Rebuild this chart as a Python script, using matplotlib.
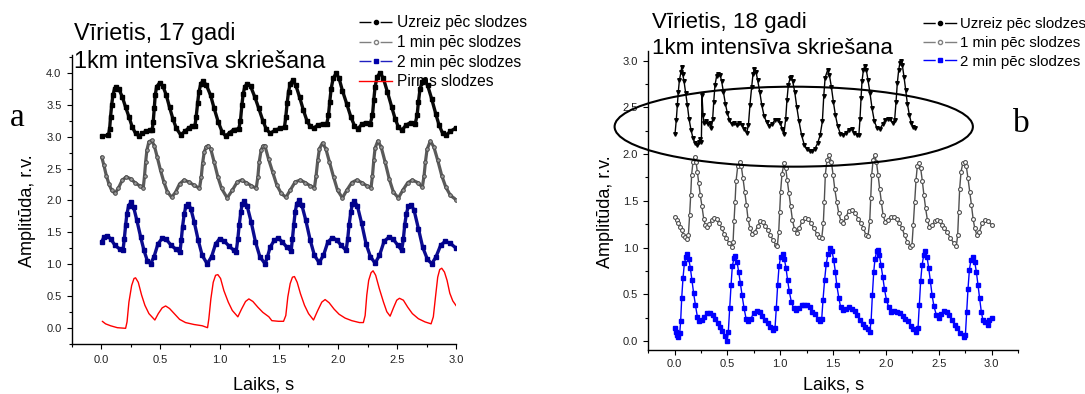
import matplotlib
matplotlib.use("Agg")
import matplotlib.pyplot as plt
from matplotlib.patches import Ellipse
from matplotlib.ticker import MultipleLocator, FormatStrFormatter
from matplotlib.lines import Line2D

plt.rcParams["font.family"] = ["Liberation Sans", "DejaVu Sans"]

# ---------------- data: (time s, amplitude r.v.) ----------------
# Panel a: male, 17 years
a_now = [(0.005,3.01),(0.061,3.02),(0.072,3.12),(0.08,3.31),(0.089,3.49),(0.10,3.65),(0.114,3.75),(0.128,3.78),(0.151,3.74),(0.179,3.62),(0.207,3.46),(0.235,3.31),(0.263,3.15),(0.291,3.05),(0.32,3.01),(0.348,3.05),(0.376,3.08),(0.41,3.10),(0.432,3.11),
         (0.44,3.23),(0.449,3.44),(0.457,3.65),(0.469,3.78),(0.494,3.84),(0.522,3.79),(0.55,3.65),(0.578,3.46),(0.606,3.28),(0.635,3.13),(0.671,3.03),(0.708,3.08),(0.742,3.14),(0.77,3.16),(0.792,3.16),
         (0.803,3.31),(0.815,3.52),(0.826,3.70),(0.843,3.83),(0.862,3.87),(0.89,3.80),(0.924,3.65),(0.955,3.44),(0.989,3.23),(1.023,3.07),(1.051,3.01),(1.085,3.06),(1.121,3.11),(1.163,3.12),
         (1.177,3.25),(1.189,3.49),(1.20,3.67),(1.214,3.78),(1.234,3.83),(1.262,3.79),(1.298,3.62),(1.332,3.44),(1.366,3.25),(1.394,3.12),(1.428,3.05),(1.47,3.10),(1.512,3.13),(1.549,3.15),
         (1.56,3.31),(1.571,3.52),(1.583,3.70),(1.597,3.83),(1.619,3.88),(1.645,3.80),(1.676,3.62),(1.709,3.41),(1.738,3.25),(1.766,3.16),(1.794,3.13),(1.83,3.18),(1.87,3.20),(1.906,3.20),
         (1.92,3.33),(1.931,3.54),(1.943,3.75),(1.96,3.91),(1.985,3.99),(2.01,3.91),(2.038,3.72),(2.075,3.51),(2.109,3.31),(2.14,3.17),(2.168,3.12),(2.201,3.19),(2.235,3.22),(2.272,3.20),
         (2.292,3.33),(2.303,3.57),(2.314,3.78),(2.331,3.93),(2.356,4.00),(2.384,3.91),(2.418,3.70),(2.455,3.46),(2.483,3.28),(2.511,3.15),(2.54,3.10),(2.576,3.18),(2.615,3.22),(2.652,3.20),
         (2.669,3.33),(2.68,3.54),(2.694,3.75),(2.714,3.86),(2.731,3.88),(2.758,3.80),(2.792,3.59),(2.826,3.36),(2.854,3.18),(2.885,3.05),(2.91,3.02),(2.95,3.08),(3.0,3.14)]

a_1min = [(0.005,2.68),(0.024,2.55),(0.044,2.39),(0.066,2.26),(0.089,2.16),(0.117,2.11),(0.145,2.19),(0.179,2.32),(0.213,2.37),(0.249,2.34),(0.286,2.28),(0.325,2.23),(0.356,2.20),
          (0.367,2.39),(0.376,2.60),(0.387,2.79),(0.404,2.92),(0.426,2.94),(0.449,2.86),(0.474,2.68),(0.502,2.47),(0.53,2.29),(0.559,2.14),(0.595,2.05),(0.629,2.13),(0.663,2.26),(0.70,2.32),(0.741,2.29),(0.784,2.24),(0.831,2.19),
          (0.846,2.37),(0.857,2.58),(0.871,2.76),(0.888,2.84),(0.904,2.86),(0.927,2.80),(0.955,2.60),(0.986,2.37),(1.017,2.19),(1.065,2.04),(1.108,2.16),(1.15,2.29),(1.186,2.32),(1.226,2.28),(1.27,2.23),(1.31,2.19),
          (1.324,2.37),(1.335,2.60),(1.352,2.79),(1.366,2.85),(1.383,2.86),(1.414,2.65),(1.448,2.45),(1.484,2.24),(1.522,2.11),(1.561,2.05),(1.597,2.16),(1.639,2.29),(1.682,2.32),(1.724,2.28),(1.766,2.23),(1.802,2.20),
          (1.816,2.39),(1.83,2.63),(1.844,2.81),(1.87,2.90),(1.898,2.81),(1.929,2.60),(1.963,2.37),(1.997,2.16),(2.038,2.04),(2.075,2.16),(2.117,2.28),(2.159,2.32),(2.201,2.28),(2.244,2.23),(2.28,2.20),
          (2.292,2.39),(2.303,2.63),(2.314,2.82),(2.337,2.93),(2.365,2.84),(2.399,2.60),(2.433,2.34),(2.469,2.13),(2.511,2.04),(2.548,2.16),(2.59,2.28),(2.629,2.32),(2.674,2.28),(2.713,2.21),
          (2.728,2.39),(2.739,2.60),(2.753,2.80),(2.781,2.93),(2.81,2.84),(2.843,2.63),(2.877,2.39),(2.911,2.21),(2.95,2.08),(3.0,2.01)]

a_2min = [(0.005,1.35),(0.024,1.43),(0.052,1.45),(0.08,1.40),(0.117,1.30),(0.157,1.24),(0.185,1.22),
          (0.196,1.40),(0.207,1.61),(0.218,1.79),(0.233,1.92),(0.252,1.97),(0.274,1.90),(0.302,1.69),(0.334,1.43),(0.362,1.22),(0.39,1.06),(0.418,1.01),(0.447,1.12),(0.48,1.32),(0.516,1.41),(0.55,1.39),(0.587,1.31),(0.629,1.24),(0.666,1.19),
          (0.677,1.38),(0.688,1.59),(0.702,1.79),(0.716,1.91),(0.736,1.95),(0.758,1.87),(0.787,1.66),(0.82,1.38),(0.854,1.14),(0.896,1.01),(0.933,1.12),(0.967,1.32),(1.0,1.40),(1.037,1.37),(1.079,1.29),(1.121,1.22),(1.141,1.20),
          (1.155,1.40),(1.166,1.61),(1.18,1.82),(1.191,1.94),(1.208,1.99),(1.234,1.91),(1.268,1.66),(1.304,1.35),(1.341,1.12),(1.385,1.01),(1.405,1.12),(1.428,1.27),(1.464,1.38),(1.498,1.41),(1.532,1.35),(1.568,1.27),(1.605,1.21),
          (1.616,1.40),(1.627,1.61),(1.639,1.82),(1.653,1.95),(1.673,2.00),(1.695,1.93),(1.729,1.69),(1.766,1.38),(1.802,1.14),(1.841,1.03),(1.878,1.14),(1.915,1.35),(1.954,1.42),(1.991,1.38),(2.027,1.30),(2.069,1.22),
          (2.083,1.40),(2.094,1.61),(2.109,1.82),(2.123,1.95),(2.14,1.99),(2.165,1.91),(2.201,1.64),(2.238,1.32),(2.275,1.12),(2.314,1.02),(2.351,1.14),(2.39,1.36),(2.433,1.43),(2.469,1.39),(2.506,1.30),(2.539,1.22),
          (2.553,1.40),(2.564,1.61),(2.578,1.79),(2.595,1.91),(2.618,1.93),(2.643,1.85),(2.68,1.56),(2.716,1.27),(2.756,1.08),(2.793,1.01),(2.829,1.12),(2.868,1.30),(2.905,1.36),(2.95,1.33),(3.0,1.25)]

a_before = [(0.01,0.11),(0.038,0.07),(0.08,0.04),(0.137,0.01),(0.207,0.0),(0.219,0.10),(0.235,0.41),(0.258,0.67),(0.278,0.78),(0.291,0.79),(0.314,0.72),(0.342,0.52),(0.37,0.36),(0.404,0.23),(0.454,0.13),(0.483,0.23),(0.516,0.32),(0.545,0.35),(0.578,0.31),(0.623,0.22),(0.663,0.14),(0.713,0.09),(0.784,0.06),(0.854,0.04),(0.899,0.01),
            (0.91,0.15),(0.927,0.46),(0.947,0.72),(0.967,0.83),(0.986,0.84),(1.009,0.78),(1.037,0.59),(1.074,0.41),(1.108,0.28),(1.155,0.18),(1.186,0.30),(1.22,0.42),(1.248,0.46),(1.282,0.42),(1.324,0.33),(1.366,0.25),(1.417,0.18),(1.442,0.12),(1.498,0.11),(1.541,0.11),
            (1.56,0.20),(1.577,0.49),(1.597,0.70),(1.616,0.80),(1.633,0.81),(1.656,0.72),(1.684,0.54),(1.718,0.36),(1.752,0.23),(1.794,0.13),(1.83,0.28),(1.864,0.41),(1.892,0.45),(1.926,0.40),(1.968,0.30),(2.01,0.22),(2.061,0.16),(2.117,0.12),(2.182,0.09),(2.215,0.09),
            (2.23,0.20),(2.244,0.52),(2.26,0.75),(2.28,0.87),(2.297,0.90),(2.319,0.83),(2.35,0.62),(2.385,0.41),(2.413,0.26),(2.441,0.19),(2.469,0.32),(2.497,0.44),(2.52,0.47),(2.553,0.44),(2.59,0.33),(2.629,0.23),(2.68,0.15),(2.736,0.10),(2.787,0.07),
            (2.806,0.18),(2.826,0.52),(2.843,0.80),(2.86,0.92),(2.877,0.94),(2.9,0.88),(2.922,0.75),(2.945,0.55),(2.97,0.43),(3.0,0.35)]

# Panel b: male, 18 years
b_now = [(0.005,2.22),(0.017,2.37),(0.027,2.53),(0.036,2.67),(0.046,2.79),(0.061,2.88),(0.068,2.93),(0.077,2.86),(0.09,2.78),(0.106,2.65),(0.121,2.53),(0.137,2.38),(0.156,2.26),(0.175,2.17),(0.194,2.12),(0.213,2.10),(0.232,2.13),(0.245,2.16),(0.254,2.13),
         (0.26,2.63),(0.27,2.42),(0.279,2.33),(0.295,2.35),(0.314,2.32),(0.333,2.33),(0.349,2.28),(0.361,2.38),(0.371,2.56),(0.383,2.74),(0.399,2.84),(0.415,2.86),(0.431,2.85),(0.446,2.78),(0.462,2.67),(0.481,2.54),(0.50,2.44),(0.519,2.37),(0.541,2.32),(0.566,2.33),(0.588,2.31),(0.61,2.33),(0.636,2.31),(0.661,2.27),(0.683,2.23),
         (0.699,2.31),(0.714,2.53),(0.73,2.72),(0.743,2.86),(0.755,2.91),(0.771,2.88),(0.787,2.79),(0.806,2.67),(0.825,2.53),(0.847,2.41),(0.872,2.34),(0.898,2.30),(0.923,2.32),(0.951,2.37),(0.976,2.37),(1.001,2.33),(1.02,2.27),(1.036,2.22),
         (1.052,2.38),(1.064,2.58),(1.077,2.74),(1.093,2.81),(1.102,2.83),(1.118,2.78),(1.137,2.67),(1.156,2.51),(1.178,2.35),(1.203,2.20),(1.228,2.10),(1.254,2.05),(1.279,2.03),(1.304,2.03),(1.33,2.06),(1.355,2.12),(1.377,2.20),
         (1.399,2.35),(1.412,2.62),(1.425,2.82),(1.449,2.90),(1.465,2.85),(1.484,2.72),(1.503,2.56),(1.522,2.42),(1.544,2.30),(1.569,2.22),(1.595,2.20),(1.623,2.23),(1.648,2.26),(1.675,2.27),(1.70,2.23),(1.725,2.21),(1.744,2.20),
         (1.755,2.38),(1.765,2.60),(1.774,2.78),(1.787,2.90),(1.799,2.94),(1.815,2.90),(1.831,2.79),(1.85,2.65),(1.869,2.49),(1.891,2.35),(1.916,2.28),(1.942,2.27),(1.97,2.32),(1.995,2.37),(2.02,2.38),(2.042,2.38),(2.064,2.33),(2.083,2.37),
         (2.096,2.56),(2.108,2.76),(2.121,2.90),(2.133,2.98),(2.143,3.00),(2.156,2.95),(2.171,2.83),(2.187,2.69),(2.203,2.54),(2.222,2.42),(2.241,2.33),(2.26,2.29),(2.279,2.28)]

b_1min = [(0.005,1.33),(0.02,1.30),(0.036,1.26),(0.052,1.22),(0.068,1.19),(0.084,1.13),(0.099,1.11),(0.115,1.09),(0.131,1.13),(0.143,1.35),(0.153,1.56),(0.162,1.78),(0.175,1.92),(0.191,1.97),(0.203,1.92),(0.216,1.81),(0.229,1.69),(0.244,1.56),(0.26,1.44),(0.276,1.31),(0.292,1.24),(0.311,1.22),(0.33,1.25),(0.352,1.30),(0.377,1.32),(0.402,1.31),(0.424,1.26),(0.446,1.21),(0.468,1.15),(0.491,1.10),(0.516,1.05),(0.541,1.01),
          (0.554,1.06),(0.563,1.28),(0.573,1.49),(0.582,1.71),(0.598,1.87),(0.617,1.92),(0.632,1.87),(0.648,1.74),(0.664,1.60),(0.68,1.46),(0.695,1.31),(0.714,1.21),(0.736,1.15),(0.762,1.17),(0.787,1.23),(0.812,1.28),(0.834,1.27),(0.856,1.23),(0.882,1.19),(0.907,1.13),(0.932,1.08),(0.957,1.03),(0.973,1.02),
          (0.986,1.17),(0.995,1.38),(1.004,1.60),(1.017,1.79),(1.036,1.90),(1.052,1.85),(1.067,1.72),(1.083,1.58),(1.099,1.44),(1.115,1.30),(1.134,1.20),(1.156,1.16),(1.181,1.21),(1.206,1.28),(1.235,1.32),(1.266,1.31),(1.292,1.26),(1.317,1.21),(1.345,1.15),(1.371,1.11),(1.393,1.10),
          (1.408,1.26),(1.417,1.49),(1.427,1.78),(1.443,1.94),(1.465,1.99),(1.484,1.92),(1.50,1.78),(1.516,1.63),(1.535,1.49),(1.554,1.37),(1.575,1.28),(1.597,1.26),(1.623,1.33),(1.648,1.39),(1.68,1.40),(1.711,1.37),(1.736,1.31),(1.762,1.26),(1.787,1.21),(1.812,1.13),(1.831,1.12),
          (1.847,1.28),(1.857,1.53),(1.866,1.78),(1.879,1.94),(1.894,1.99),(1.91,1.92),(1.926,1.78),(1.941,1.63),(1.957,1.49),(1.973,1.35),(1.995,1.27),(2.02,1.30),(2.045,1.33),(2.073,1.33),(2.101,1.31),(2.127,1.26),(2.152,1.21),(2.177,1.13),(2.203,1.06),(2.231,1.01),(2.247,1.03),
          (2.259,1.24),(2.272,1.49),(2.285,1.72),(2.297,1.87),(2.313,1.90),(2.329,1.85),(2.345,1.71),(2.36,1.56),(2.376,1.42),(2.392,1.30),(2.411,1.22),(2.436,1.24),(2.462,1.28),(2.487,1.30),(2.512,1.28),(2.531,1.24),(2.55,1.21),(2.578,1.17),(2.61,1.10),(2.641,1.05),(2.667,1.02),
          (2.679,1.13),(2.689,1.38),(2.698,1.63),(2.711,1.81),(2.727,1.90),(2.746,1.92),(2.761,1.87),(2.777,1.74),(2.793,1.60),(2.809,1.46),(2.825,1.31),(2.84,1.21),(2.862,1.13),(2.885,1.17),(2.91,1.26),(2.94,1.30),(2.97,1.28),(3.0,1.24)]

b_2min = [(0.005,0.14),(0.014,0.10),(0.027,0.06),(0.036,0.04),(0.049,0.08),(0.058,0.21),(0.068,0.46),(0.08,0.67),(0.093,0.83),(0.109,0.90),(0.121,0.93),(0.134,0.88),(0.15,0.78),(0.165,0.65),(0.181,0.51),(0.197,0.39),(0.216,0.26),(0.235,0.21),(0.257,0.22),(0.282,0.26),(0.308,0.30),(0.336,0.30),(0.361,0.28),(0.383,0.24),(0.409,0.19),(0.43,0.15),(0.453,0.11),(0.478,0.05),(0.497,0.0),
          (0.509,0.10),(0.522,0.35),(0.535,0.60),(0.547,0.80),(0.563,0.89),(0.576,0.91),(0.591,0.85),(0.607,0.74),(0.623,0.62),(0.639,0.49),(0.658,0.35),(0.677,0.24),(0.699,0.21),(0.724,0.24),(0.749,0.30),(0.777,0.32),(0.806,0.31),(0.831,0.27),(0.856,0.22),(0.882,0.19),(0.907,0.15),(0.932,0.12),(0.951,0.14),
          (0.963,0.35),(0.976,0.60),(0.989,0.80),(1.004,0.90),(1.023,0.93),(1.039,0.88),(1.055,0.78),(1.07,0.65),(1.086,0.53),(1.105,0.42),(1.127,0.35),(1.153,0.33),(1.178,0.35),(1.203,0.38),(1.228,0.39),(1.254,0.38),(1.279,0.36),(1.304,0.31),(1.33,0.29),(1.355,0.24),(1.375,0.21),(1.393,0.24),
          (1.405,0.44),(1.42,0.65),(1.435,0.82),(1.452,0.93),(1.474,1.00),(1.49,0.96),(1.506,0.87),(1.522,0.74),(1.535,0.60),(1.555,0.46),(1.572,0.36),(1.594,0.33),(1.623,0.34),(1.648,0.36),(1.68,0.34),(1.705,0.32),(1.73,0.28),(1.755,0.22),(1.78,0.18),(1.806,0.15),(1.831,0.13),(1.847,0.10),
          (1.86,0.21),(1.872,0.49),(1.885,0.74),(1.897,0.88),(1.913,0.96),(1.922,0.97),(1.938,0.92),(1.954,0.81),(1.97,0.69),(1.986,0.56),(2.005,0.44),(2.027,0.36),(2.052,0.31),(2.08,0.32),(2.109,0.31),(2.134,0.30),(2.159,0.27),(2.184,0.24),(2.21,0.21),(2.235,0.16),(2.26,0.13),(2.285,0.10),
          (2.304,0.14),(2.317,0.39),(2.329,0.64),(2.342,0.81),(2.358,0.92),(2.373,0.96),(2.389,0.90),(2.405,0.78),(2.421,0.64),(2.437,0.49),(2.455,0.37),(2.477,0.28),(2.50,0.25),(2.525,0.29),(2.55,0.32),(2.575,0.31),(2.60,0.28),(2.626,0.22),(2.651,0.17),(2.676,0.14),(2.701,0.09),(2.736,0.04),
          (2.752,0.06),(2.764,0.31),(2.777,0.56),(2.79,0.76),(2.805,0.87),(2.824,0.90),(2.84,0.85),(2.856,0.74),(2.871,0.60),(2.887,0.46),(2.903,0.31),(2.919,0.22),(2.94,0.20),(2.965,0.17),(2.98,0.22),(3.0,0.25)]

labels_a = ["Uzreiz pēc slodzes", "1 min pēc slodzes", "2 min pēc slodzes", "Pirms slodzes"]
labels_b = ["Uzreiz pēc slodzes", "1 min pēc slodzes", "2 min pēc slodzes"]

# ---------------- figure ----------------
W, H = 1085, 394
fig = plt.figure(figsize=(W / 100, H / 100), dpi=100)
fig.patch.set_facecolor("white")


def fx(px):
    return px / W


def fy(py):
    return 1 - py / H


ax_a = fig.add_axes([fx(71.5), fy(344.3), (456.3 - 71.5) / W, (344.3 - 55.4) / H])
ax_b = fig.add_axes([fx(648.1), fy(350.3), (1018.0 - 648.1) / W, (350.3 - 51.4) / H])


def style_axes(ax, xlim, ylim, xpad):
    ax.set_xlim(*xlim)
    ax.set_ylim(*ylim)
    for s in ("top", "right"):
        ax.spines[s].set_visible(False)
    for s in ("left", "bottom"):
        ax.spines[s].set_linewidth(1.0)
    ax.xaxis.set_major_locator(MultipleLocator(0.5))
    ax.xaxis.set_minor_locator(MultipleLocator(0.25))
    ax.yaxis.set_major_locator(MultipleLocator(0.5))
    ax.yaxis.set_minor_locator(MultipleLocator(0.25))
    ax.xaxis.set_major_formatter(FormatStrFormatter("%.1f"))
    ax.yaxis.set_major_formatter(FormatStrFormatter("%.1f"))
    ax.tick_params(which="major", direction="out", length=3.6, width=0.8,
                   labelsize=8, labelcolor="#222222")
    ax.tick_params(which="minor", direction="out", length=2.2, width=0.8)
    ax.tick_params(axis="x", which="major", pad=xpad)
    ax.tick_params(axis="y", which="major", pad=3.6)


def draw(ax, series, **kw):
    t = [p[0] for p in series]
    y = [p[1] for p in series]
    return ax.plot(t, y, solid_joinstyle="round", solid_capstyle="round", **kw)[0]


# ---- panel a: dense traces ----
style_axes(ax_a, (-0.25, 3.0), (-0.25, 4.27), 4.0)
draw(ax_a, a_before, color="#ff0000", lw=1.0, zorder=2)
draw(ax_a, a_2min, color="#0c0c90", lw=2.4, marker="s", ms=2.2,
     mfc="#00008b", mec="#00008b", zorder=3)
draw(ax_a, a_1min, color="#5a5a5a", lw=2.3, marker="o", ms=2.6,
     mfc="#9a9a9a", mec="#4a4a4a", mew=0.7, zorder=3)
draw(ax_a, a_now, color="#0a0a0a", lw=2.4, marker="s", ms=2.2,
     mfc="black", mec="black", zorder=3)

hd = (0, (8.6, 6.6))
handles_a = [
    Line2D([], [], color="black", lw=1.0, ls=hd, marker="o", ms=3, mfc="black", mec="black"),
    Line2D([], [], color="#808080", lw=1.0, ls=hd, marker="o", ms=3, mfc="white", mec="#808080"),
    Line2D([], [], color="#2020c0", lw=1.0, ls=hd, marker="s", ms=3, mfc="#0000aa", mec="#0000aa"),
    Line2D([], [], color="#ff0000", lw=1.0),
]
ax_a.legend(handles_a, labels_a, loc="upper left",
            bbox_to_anchor=(fx(359.2), fy(15.5)), bbox_transform=fig.transFigure,
            frameon=False, borderpad=0, borderaxespad=0, handlelength=2.1,
            handletextpad=0.35, labelspacing=0.29, fontsize=11.2, numpoints=1)

# ---- panel b ----
style_axes(ax_b, (-0.25, 3.25), (-0.1, 3.1), 3.0)
draw(ax_b, b_2min, color="#0000ff", lw=1.0, marker="s", ms=2.4,
     mfc="#0000ff", mec="#0000ff", zorder=3)
draw(ax_b, b_1min, color="#505050", lw=1.0, marker="o", ms=2.8,
     mfc="white", mec="#505050", mew=0.8, zorder=3)
draw(ax_b, b_now, color="black", lw=1.0, marker="v", ms=2.6,
     mfc="black", mec="black", zorder=3)
ax_b.add_patch(Ellipse((1.128, 2.294), 3.39, 0.856, fill=False, lw=1.5,
                       ec="black", clip_on=False, zorder=4))

hd_b = (0, (8.8, 6.7))
handles_b = [
    Line2D([], [], color="black", lw=1.0, ls=hd_b, marker="o", ms=3, mfc="black", mec="black"),
    Line2D([], [], color="#808080", lw=1.0, ls=hd_b, marker="o", ms=3, mfc="white", mec="#808080"),
    Line2D([], [], color="#0000ff", lw=1.0, ls=hd_b, marker="s", ms=3, mfc="#0000ff", mec="#0000ff"),
]
ax_b.legend(handles_b, labels_b, loc="upper left",
            bbox_to_anchor=(fx(922.8), fy(17.0)), bbox_transform=fig.transFigure,
            frameon=False, borderpad=0, borderaxespad=0, handlelength=2.25,
            handletextpad=0.23, labelspacing=0.32, fontsize=10.8, numpoints=1)

# ---- titles, panel letters, axis labels ----
fig.text(fx(74), fy(40), "Vīrietis, 17 gadi", fontsize=16.8, va="baseline", ha="left")
fig.text(fx(74), fy(68.3), "1km intensīva skriešana", fontsize=16.8, va="baseline", ha="left")
fig.text(fx(651.7), fy(28.3), "Vīrietis, 18 gadi", fontsize=16.1, va="baseline", ha="left")
fig.text(fx(651.7), fy(54.3), "1km intensīva skriešana", fontsize=16.1, va="baseline", ha="left")

fig.text(fx(10), fy(126), "a", fontsize=24, family=["Liberation Serif", "DejaVu Serif"],
         va="baseline", ha="left")
fig.text(fx(1013), fy(131.7), "b", fontsize=24, family=["Liberation Serif", "DejaVu Serif"],
         va="baseline", ha="left")

fig.text(fx(27), fy(211), "Amplitūda, r.v.", fontsize=13, rotation=90, ha="center", va="center")
fig.text(fx(605.3), fy(211.7), "Amplitūda, r.v.", fontsize=13, rotation=90, ha="center", va="center")
fig.text(fx(264), fy(389.5), "Laiks, s", fontsize=13, ha="center", va="baseline")
fig.text(fx(833.3), fy(390.0), "Laiks, s", fontsize=13, ha="center", va="baseline")

fig.savefig("out.png", dpi=100, facecolor="white")
